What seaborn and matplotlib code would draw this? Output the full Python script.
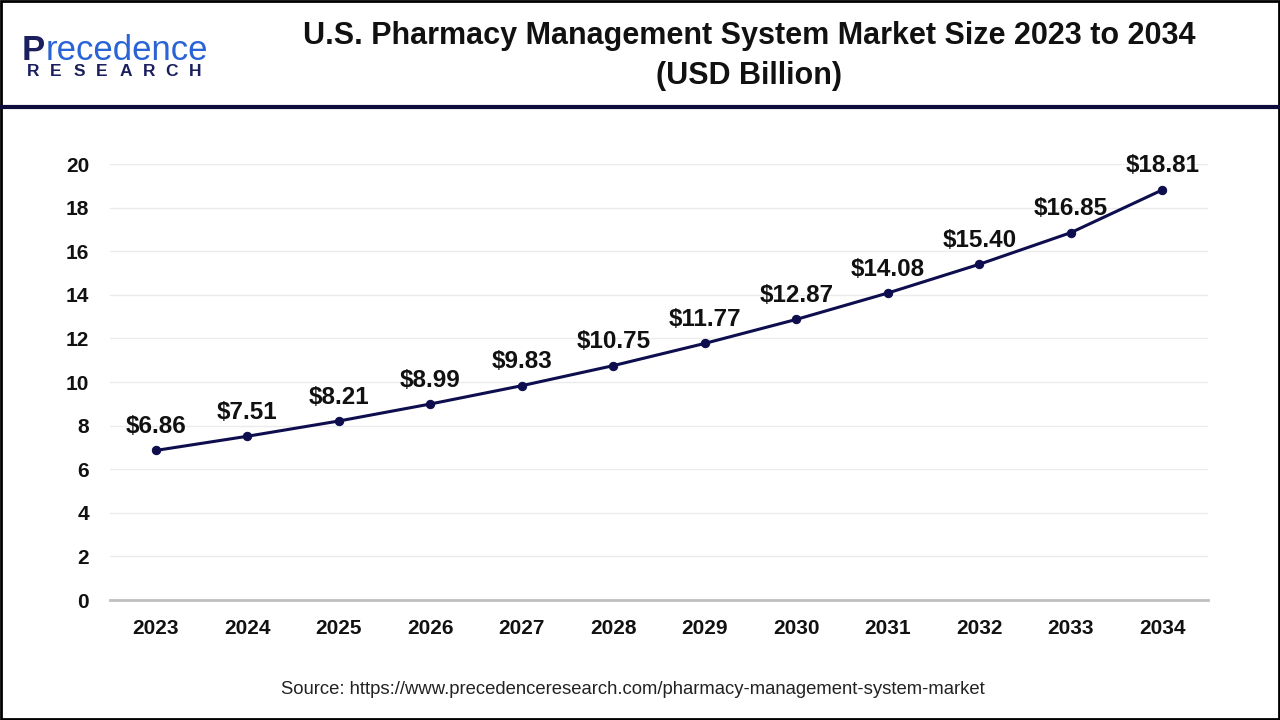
import matplotlib
matplotlib.use("Agg")
import matplotlib.pyplot as plt
import seaborn as sns
import pandas as pd
from matplotlib.patches import Rectangle
from matplotlib.lines import Line2D

# chart data
years = ["2023", "2024", "2025", "2026", "2027", "2028",
         "2029", "2030", "2031", "2032", "2033", "2034"]
market_size = [6.86, 7.51, 8.21, 8.99, 9.83, 10.75,
               11.77, 12.87, 14.08, 15.40, 16.85, 18.81]
y_ticks = [0, 2, 4, 6, 8, 10, 12, 14, 16, 18, 20]

title = "U.S. Pharmacy Management System Market Size 2023 to 2034\n(USD Billion)"
source = "Source: https://www.precedenceresearch.com/pharmacy-management-system-market"

LINE_COLOR = "#0e0e4f"

sns.set_theme(style="white")
plt.rcParams["font.family"] = ["Liberation Sans", "DejaVu Sans"]

df = pd.DataFrame({"idx": range(len(years)), "year": years, "value": market_size})

fig = plt.figure(figsize=(12.8, 7.2), dpi=100)
ax = fig.add_axes([110 / 1280, 1 - 600 / 720, 1098 / 1280, 436 / 720])

sns.lineplot(data=df, x="idx", y="value", ax=ax, color=LINE_COLOR,
             linewidth=2.2, marker="o", markersize=6,
             markeredgecolor=LINE_COLOR, markerfacecolor=LINE_COLOR)

# value labels above points
for i, v in zip(df["idx"], df["value"]):
    ax.annotate(f"${v:.2f}", (i, v), xytext=(0, 24), textcoords="offset pixels",
                ha="center", va="center", fontsize=17.5, fontweight="bold",
                color="#111111", annotation_clip=False)

ax.set_xlim(-0.5, len(years) - 0.5)
ax.set_ylim(0, 20)
ax.set_xticks(df["idx"])
ax.set_xticklabels(years)
ax.set_yticks(y_ticks)
ax.set_xlabel("")
ax.set_ylabel("")
ax.tick_params(axis="x", labelsize=15, pad=14, length=0)
ax.tick_params(axis="y", labelsize=15, pad=15, length=0)
for lab in ax.get_xticklabels() + ax.get_yticklabels():
    lab.set_fontweight("bold")
    lab.set_color("#111111")

ax.yaxis.grid(True, color="#ebebeb", linewidth=1)
ax.xaxis.grid(False)
for side in ["top", "right", "left"]:
    ax.spines[side].set_visible(False)
ax.spines["bottom"].set_color("#bfbfbf")
ax.spines["bottom"].set_linewidth(2)

# header: logo and title
fig.text(22 / 1280, 1 - 50 / 720, "P", fontsize=25, fontweight="bold",
         color="#1b1f5e", ha="left", va="center")
fig.text(46 / 1280, 1 - 50 / 720, "recedence", fontsize=25,
         color="#2a63d6", ha="left", va="center")
for k, letter in enumerate("RESEARCH"):
    fig.text((27 + k * 23.1) / 1280, 1 - 72 / 720, letter, fontsize=12.5,
             fontweight="bold", color="#1b1f5e", ha="left", va="center")

fig.text(749 / 1280, 1 - 56 / 720, title, fontsize=22, fontweight="bold",
         color="#111111", ha="center", va="center", linespacing=1.4)

fig.add_artist(Line2D([0, 1], [1 - 107 / 720, 1 - 107 / 720],
                      transform=fig.transFigure, color="#0d0d3d", linewidth=3))

fig.text(633 / 1280, 1 - 689 / 720, source, fontsize=13.3, color="#222222",
         ha="center", va="center")

# outer border
fig.add_artist(Rectangle((0.001, 0.0015), 0.998, 0.997, transform=fig.transFigure,
                         fill=False, edgecolor="black", linewidth=2))

fig.savefig("out.png", dpi=100)
